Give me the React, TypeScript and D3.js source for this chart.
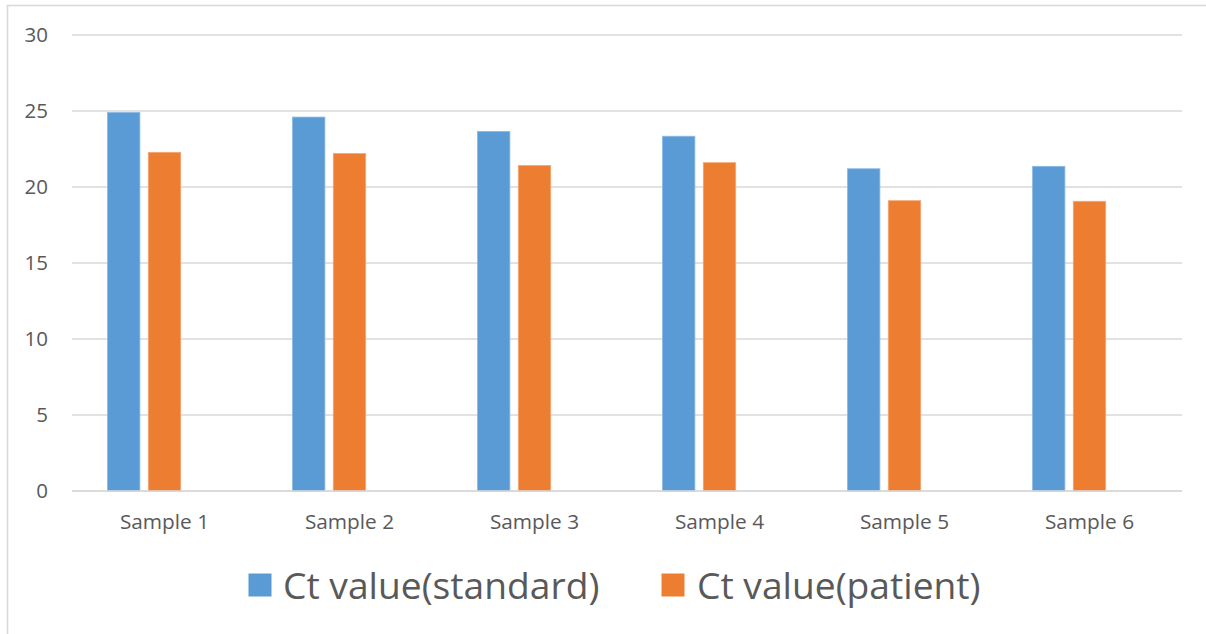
import React from "react";
import * as d3 from "d3";

const categories = ["Sample 1", "Sample 2", "Sample 3", "Sample 4", "Sample 5", "Sample 6"];
const seriesNames = ["Ct value(standard)", "Ct value(patient)", ""];
const standardValues = [24.91, 24.6, 23.66, 23.34, 21.2, 21.36];
const patientValues = [22.28, 22.2, 21.41, 21.6, 19.1, 19.06];
const yTicks = [0, 5, 10, 15, 20, 25, 30];
const colors = ["#5B9BD5", "#ED7D31", "#A5A5A5"];
const strokeColors = ["#8DB9E3", "#F3A673", "#C8C8C8"];

const W = 1206;
const H = 634;
const TEXT = "#595959";
const GRID = "#D9D9D9";
const FONT = "'Open Sans', sans-serif";

export default function App() {
  const x0 = d3.scaleBand<string>().domain(categories).range([72, 1182]).padding(0);
  const x1 = d3
    .scaleBand<string>()
    .domain(["s0", "s1", "s2"])
    .range([0, x0.bandwidth()])
    .paddingInner(0.206)
    .paddingOuter(0.87);
  const y = d3.scaleLinear().domain([0, 30]).range([491, 35]);

  const series = [standardValues, patientValues];

  return (
    <svg
      width={W}
      height={H}
      style={{ position: "absolute", left: 0, top: 0, display: "block", background: "#fff" }}
      fontFamily={FONT}
    >
      <rect x={0} y={0} width={W} height={H} fill="#fff" />
      <rect x={7.5} y={5.5} width={1400} height={800} fill="none" stroke={GRID} strokeWidth={1.6} />
      {yTicks.map((t) => (
        <g key={t}>
          <line x1={72} x2={1182} y1={y(t)} y2={y(t)} stroke={GRID} strokeWidth={1.6} />
          <text
            x={48}
            y={y(t)}
            dy="0.36em"
            textAnchor="end"
            fontSize={20.5}
            fill={TEXT}
          >
            {t}
          </text>
        </g>
      ))}
      {series.map((vals, si) =>
        vals.map((v, ci) => {
          const xx = (x0(categories[ci]) as number) + (x1("s" + si) as number);
          return (
            <rect
              key={si + "-" + ci}
              x={xx}
              y={y(v)}
              width={x1.bandwidth()}
              height={y(0) - y(v)}
              fill={colors[si]}
              stroke={strokeColors[si]}
              strokeWidth={0.8}
            />
          );
        })
      )}
      <line x1={72} x2={1182} y1={y(0)} y2={y(0)} stroke={GRID} strokeWidth={1.6} />
      {categories.map((c) => (
        <text
          key={c}
          x={(x0(c) as number) + x0.bandwidth() / 2}
          y={529}
          textAnchor="middle"
          fontSize={20.8}
          fill={TEXT}
        >
          {c}
        </text>
      ))}
      <g>
        <rect x={248.5} y={573.5} width={23} height={23} fill={colors[0]} />
        <text x={283} y={599} fontSize={37.2} fill={TEXT}>
          {seriesNames[0]}
        </text>
        <rect x={661.5} y={573.5} width={23} height={23} fill={colors[1]} />
        <text x={697} y={599} fontSize={37.2} fill={TEXT}>
          {seriesNames[1]}
        </text>
      </g>
    </svg>
  );
}
